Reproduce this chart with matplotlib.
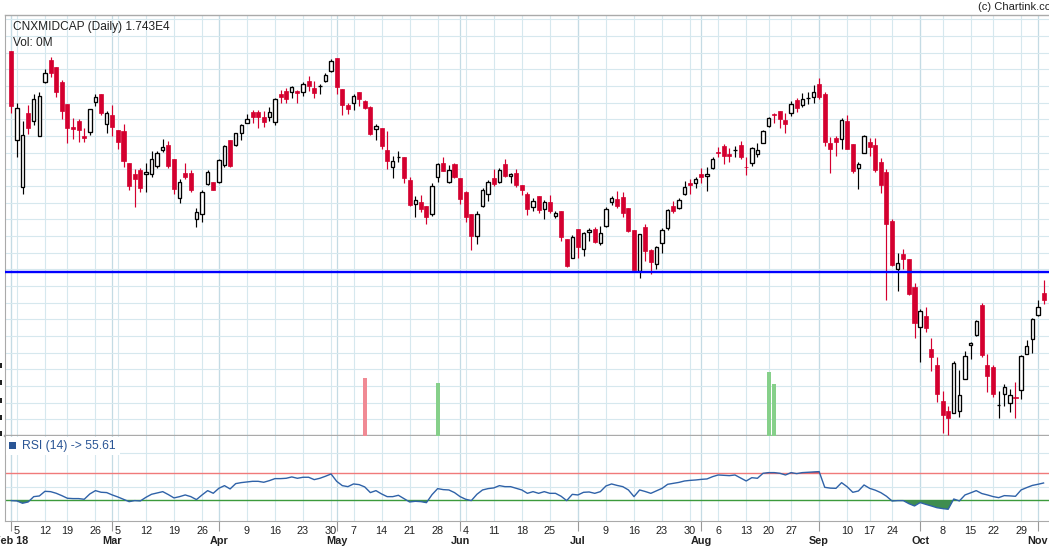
import numpy as np
import pandas as pd
import matplotlib
matplotlib.use('Agg')
import matplotlib.pyplot as plt
from matplotlib.patches import Rectangle

# ---------------- data (NIFTY MIDCAP, daily, 2 Feb 2018 - 2 Nov 2018) ----------------
holidays = ['2018-02-13', '2018-03-02', '2018-03-29', '2018-03-30', '2018-05-01',
            '2018-08-15', '2018-08-22', '2018-09-13', '2018-09-20', '2018-10-02', '2018-10-18']

opens = [
    20420, 19352, 18788, 19680, 19576, 19404, 20052, 20312, 20228, 20044,
    19784, 19504, 19584, 19404, 19444, 19812, 19904, 19540, 19652, 19472,
    19460, 19076, 18944, 18992, 18940, 18948, 19044, 19228, 19288, 19124,
    18660, 18952, 18956, 18400, 18460, 18828, 18848, 18844, 19056, 19352,
    19288, 19432, 19560, 19688, 19688, 19628, 19632, 19572, 19904, 19940,
    19924, 19940, 19924, 20060, 19976, 20004, 20064, 20184, 20336, 19964,
    19768, 19792, 19928, 19820, 19748, 19488, 19496, 19232, 19032, 19152,
    19148, 18872, 18580, 18604, 18560, 18468, 18904, 19072, 18852, 19064,
    18896, 18732, 18464, 18200, 18564, 18704, 18896, 18844, 19064, 18920,
    18956, 18812, 18704, 18552, 18684, 18520, 18612, 18444, 18500, 18164,
    17940, 18284, 18040, 18244, 18288, 18112, 18324, 18604, 18644, 18668,
    18536, 18272, 17784, 18304, 18032, 17860, 18112, 18300, 18560, 18540,
    18700, 18840, 18832, 18948, 18920, 19012, 19208, 19284, 19184, 19232,
    19292, 19032, 19072, 19180, 19320, 19524, 19668, 19696, 19592, 19672,
    19832, 19768, 19860, 19864, 20020, 19904, 19320, 19380, 19360, 19580,
    19304, 19012, 19192, 19332, 19292, 19092, 18968, 18380, 17804, 17980,
    17924, 17584, 17104, 17240, 16844, 16648, 16220, 16096, 16072, 16096,
    16480, 16888, 17016, 17372, 16648, 16628, 16176, 16308, 16200, 16268,
    16348, 16780, 16960, 17256, 17520]

highs = [
    20420, 19800, 19580, 19768, 19904, 19928, 20200, 20352, 20228, 20072,
    19784, 19616, 19604, 19492, 19728, 19904, 19904, 19700, 19776, 19476,
    19540, 19076, 19004, 19012, 19080, 19220, 19220, 19364, 19340, 19124,
    18884, 19072, 18992, 18532, 18752, 18992, 18848, 19120, 19288, 19352,
    19440, 19544, 19664, 19712, 19712, 19700, 19752, 19852, 19952, 19980,
    20000, 19952, 20052, 20120, 20060, 20020, 20160, 20320, 20336, 19964,
    19796, 19900, 19928, 19832, 19760, 19544, 19496, 19460, 19160, 19220,
    19148, 18912, 18680, 18692, 18560, 18832, 19072, 19144, 19052, 19072,
    18896, 18740, 18464, 18500, 18780, 18872, 19000, 19012, 19124, 18960,
    19000, 18812, 18732, 18652, 18684, 18632, 18692, 18500, 18500, 18164,
    18212, 18284, 18252, 18292, 18312, 18320, 18552, 18684, 18740, 18732,
    18536, 18272, 18220, 18340, 18044, 18080, 18292, 18524, 18620, 18652,
    18860, 18880, 18912, 19020, 19024, 19152, 19264, 19300, 19252, 19284,
    19340, 19144, 19272, 19312, 19472, 19632, 19680, 19696, 19672, 19824,
    19860, 19920, 19924, 20012, 20092, 19924, 19384, 19400, 19612, 19652,
    19304, 19084, 19412, 19372, 19372, 19132, 19004, 18404, 18000, 18044,
    17924, 17632, 17320, 17344, 16972, 16744, 16336, 16160, 16700, 16592,
    16820, 16932, 17192, 17400, 16784, 16648, 16340, 16424, 16364, 16452,
    16772, 16952, 17212, 17432, 17672]

lows = [
    19672, 19152, 18708, 19424, 19532, 19404, 20040, 20104, 19872, 19604,
    19320, 19368, 19332, 19332, 19412, 19760, 19652, 19436, 19404, 19248,
    19032, 18752, 18552, 18728, 18728, 18912, 19012, 19212, 19012, 18708,
    18600, 18880, 18724, 18312, 18372, 18812, 18756, 18836, 19032, 19032,
    19284, 19352, 19552, 19560, 19500, 19512, 19584, 19532, 19792, 19792,
    19860, 19800, 19884, 19940, 19860, 19900, 20052, 20168, 19900, 19652,
    19660, 19712, 19764, 19724, 19408, 19352, 19244, 19004, 18900, 19084,
    18840, 18560, 18432, 18484, 18340, 18444, 18852, 18980, 18832, 18900,
    18580, 18372, 18032, 18104, 18544, 18624, 18800, 18840, 18912, 18840,
    18792, 18692, 18452, 18504, 18472, 18404, 18480, 18420, 18140, 17824,
    17940, 17932, 17964, 18140, 18112, 18088, 18312, 18572, 18540, 18424,
    18252, 17792, 17700, 17900, 17740, 17800, 18000, 18272, 18480, 18524,
    18692, 18704, 18780, 18840, 18744, 19004, 19144, 19060, 19092, 19152,
    19120, 18932, 19044, 19144, 19312, 19512, 19560, 19500, 19440, 19640,
    19692, 19752, 19780, 19800, 19840, 19280, 18960, 19160, 19244, 19244,
    18960, 18764, 19192, 19160, 18972, 18720, 17432, 17840, 17540, 17800,
    17492, 16980, 16692, 17052, 16584, 16212, 15832, 15812, 16072, 16024,
    16480, 16720, 17004, 16752, 16332, 16272, 16020, 16164, 16092, 16020,
    16244, 16780, 16800, 17244, 17388]

closes = [
    19764, 19732, 19408, 19492, 19840, 19876, 20152, 20160, 19932, 19704,
    19496, 19488, 19476, 19380, 19724, 19864, 19680, 19672, 19512, 19332,
    19104, 18804, 18888, 18780, 18964, 19124, 19192, 19264, 19044, 18768,
    18844, 18912, 18756, 18484, 18724, 18964, 18756, 19108, 19276, 19040,
    19432, 19532, 19604, 19632, 19632, 19572, 19684, 19840, 19864, 19848,
    19984, 19912, 20020, 20004, 19920, 20004, 20128, 20296, 19992, 19772,
    19724, 19876, 19844, 19740, 19428, 19516, 19284, 19104, 19100, 19152,
    18900, 18572, 18628, 18520, 18432, 18800, 19060, 18984, 18988, 18912,
    18640, 18432, 18204, 18460, 18752, 18844, 18824, 18992, 18924, 18944,
    18812, 18752, 18524, 18620, 18512, 18612, 18504, 18472, 18192, 17840,
    18192, 18072, 18232, 18272, 18132, 18232, 18524, 18652, 18564, 18480,
    18264, 17792, 18220, 18024, 17892, 18064, 18272, 18512, 18504, 18632,
    18784, 18816, 18884, 18912, 18944, 19124, 19196, 19160, 19160, 19232,
    19144, 19028, 19252, 19228, 19456, 19612, 19648, 19608, 19548, 19780,
    19732, 19840, 19860, 19924, 19872, 19332, 19244, 19332, 19592, 19244,
    18984, 19060, 19400, 19272, 18992, 18812, 18348, 17852, 17880, 17924,
    17504, 17160, 17300, 17092, 16744, 16308, 16056, 16012, 16672, 16288,
    16756, 16912, 17180, 16776, 16524, 16304, 16176, 16384, 16292, 16260,
    16760, 16880, 17204, 17344, 17432]

rsi14 = [
    29.5, 29.0, 25.6, 27.5, 35.4, 36.4, 43.3, 42.8, 40.4, 36.9,
    33.0, 32.5, 32.5, 31.5, 39.4, 44.3, 41.9, 41.4, 37.9, 34.9,
    31.5, 28.0, 29.5, 29.0, 34.4, 38.9, 40.9, 42.8, 38.4, 33.5,
    35.4, 37.9, 35.4, 31.0, 37.9, 44.3, 40.4, 47.8, 51.7, 46.8,
    54.7, 56.2, 57.2, 58.1, 58.1, 56.7, 59.1, 62.1, 62.1, 62.6,
    64.6, 62.6, 64.1, 64.1, 60.6, 62.6, 65.6, 69.0, 58.1, 51.7,
    50.2, 54.2, 53.2, 49.8, 41.4, 44.3, 39.4, 35.4, 35.4, 37.4,
    32.5, 27.5, 28.5, 28.0, 26.5, 38.4, 47.3, 45.8, 45.3, 41.4,
    35.4, 31.5, 29.5, 38.9, 45.3, 47.3, 48.3, 51.7, 50.2, 50.2,
    47.8, 45.3, 40.3, 42.8, 40.3, 42.8, 40.3, 40.3, 36.0, 29.5,
    38.8, 37.9, 41.8, 42.3, 40.3, 42.8, 51.2, 54.2, 52.0, 50.2,
    45.3, 35.4, 45.3, 43.0, 40.3, 44.0, 47.7, 53.7, 55.1, 56.5,
    58.6, 59.5, 60.1, 61.0, 61.6, 65.0, 67.5, 67.0, 66.5, 67.5,
    63.0, 58.6, 63.5, 62.6, 70.0, 71.0, 71.0, 70.0, 67.5, 71.0,
    69.5, 71.0, 71.5, 72.0, 72.5, 49.2, 48.0, 47.7, 56.1, 50.0,
    41.8, 43.8, 52.7, 47.7, 45.0, 41.3, 36.0, 28.9, 29.5, 29.5,
    25.0, 21.6, 26.6, 24.0, 21.6, 19.0, 17.7, 16.7, 31.9, 29.0,
    37.9, 41.0, 44.3, 40.0, 37.9, 35.5, 33.9, 36.9, 36.5, 35.9,
    45.3, 48.8, 52.0, 53.7, 55.61]

vol_days = ['2018-05-09', '2018-05-28', '2018-08-20', '2018-08-21']
vol_values = [3.4, 3.1, 3.75, 3.05]

support_level = 17772
title = 'CNXMIDCAP (Daily) 1.743E4'
vol_text = 'Vol: 0M'
rsi_text = 'RSI (14) -> 55.61'

# ---------------- build ----------------
dates = pd.bdate_range('2018-02-02', '2018-11-02')
dates = dates[~dates.isin(pd.to_datetime(holidays))]
n = len(dates)
o = np.array(opens, float); h = np.array(highs, float)
l = np.array(lows, float); c = np.array(closes, float)
r = np.array(rsi14, float)
assert n == len(o) == len(h) == len(l) == len(c) == len(r)
x = np.arange(n)

W, H = 1049, 551
plt.rcParams['font.family'] = ['Liberation Sans', 'DejaVu Sans']
fig = plt.figure(figsize=(W / 100, H / 100), dpi=100)
fig.patch.set_facecolor('white')

def fx(p):
    return p / W

def fy(p):
    return 1 - p / H

X0, DX = 11.3, 5.61          # pixel of first candle, pixels per day
LPX, RPX = 4.7, 1075
TOP, MID, BOT = 15, 435.7, 521

ax = fig.add_axes([fx(LPX), fy(MID), (RPX - LPX) / W, (MID - TOP) / H])
axr = fig.add_axes([fx(LPX), fy(BOT), (RPX - LPX) / W, (BOT - MID) / H])
xlim = ((LPX - X0) / DX, (RPX - X0) / DX)

# volume (overlay axis, created first so tick settings below stick)
axv = ax.twinx()

for a in (ax, axr):
    a.set_xlim(*xlim)
    for s in a.spines.values():
        s.set_color('#aaaaaa')
    a.spines['right'].set_visible(False)
ax.spines['bottom'].set_linewidth(1.7)
ax.spines['top'].set_linewidth(1.0)
axr.spines['top'].set_visible(False)
ax.set_ylim(15804, 20852)
axr.set_ylim(-0.7, 125.7)

week = dates.isocalendar().week.values
week_start = [i for i in range(n) if i == 0 or week[i] != week[i - 1]]
month_start = [i for i in range(n) if i == 0 or dates[i].month != dates[i - 1].month]

grid_c = '#d6e8ee'
month_c = '#c4dbe4'
for a in (ax, axr):
    for i in week_start:
        a.axvline(i, color=grid_c, lw=0.8, zorder=0)
    for i in month_start:
        a.axvline(i, color=month_c, lw=0.9, zorder=0)
for p in range(16000, 20852, 200):
    ax.axhline(p, color=grid_c, lw=0.8, zorder=0)
for p in (50, 100):
    axr.axhline(p, color=grid_c, lw=0.8, zorder=0)

# candles
red = '#d4002f'
up = c >= o
lo = np.minimum(o, c)
ht = np.abs(c - o)
ax.vlines(x[up], l[up], h[up], colors='black', lw=0.85, zorder=3)
ax.vlines(x[~up], l[~up], h[~up], colors=red, lw=0.85, zorder=3)
ax.bar(x[up], ht[up], bottom=lo[up], width=0.6, facecolor='white',
       edgecolor='black', lw=0.95, zorder=4)
ax.bar(x[~up], ht[~up], bottom=lo[~up], width=0.72, facecolor=red,
       edgecolor=red, lw=0.5, zorder=4)

ax.axhline(support_level, color='#0000ff', lw=1.7, zorder=5)

axv.set_ylim(0, 24.75)
axv.set_xlim(*xlim)
axv.axis('off')
vi = [int(np.where(dates == pd.Timestamp(d))[0][0]) for d in vol_days]
vcol = ['#f08a94' if c[i] < c[i - 1] else '#86d08a' for i in vi]
axv.bar(vi, vol_values, width=0.75, color=vcol, zorder=2)

for a in (ax, axr):
    a.tick_params(axis='y', which='both', left=False, right=False,
                  labelleft=False, labelright=False)
ax.tick_params(axis='x', which='both', bottom=False, top=False, labelbottom=False)

# RSI
axr.axhline(70, color='#f07a7a', lw=1.0, zorder=1)
axr.axhline(30, color='#3c9a3c', lw=1.0, zorder=1)
axr.fill_between(x, r, 30, where=r < 30, interpolate=True, color='#3f8d50', lw=0, zorder=2)
axr.fill_between(x, r, 70, where=r > 70, interpolate=True, color='#e0505a', lw=0, zorder=2)
axr.plot(x, r, color='#2f62a8', lw=1.0, zorder=3)

# x labels
tr = axr.get_xaxis_transform()
for i in week_start:
    if i not in month_start:
        axr.text(i, (BOT - 531) / (BOT - MID), str(dates[i].day), transform=tr,
                 ha='center', va='center', fontsize=7.8, color='#222222')
for k, i in enumerate(month_start):
    lab = dates[i].strftime('%b %y') if k == 0 else dates[i].strftime('%b')
    axr.text(i, (BOT - 541) / (BOT - MID), lab, transform=tr, ha='center', va='center',
             fontsize=7.8, fontweight='bold', color='#222222')
axr.set_xticks(month_start)
axr.tick_params(axis='x', bottom=True, length=7, width=0.8, color='#999999', labelbottom=False)

# texts
fig.text(fx(13), fy(27), title, fontsize=8.6, va='center', color='#222222')
fig.text(fx(13), fy(43), vol_text, fontsize=8.6, va='center', color='#222222')
fig.text(fx(978), fy(7), '(c) Chartink.com', fontsize=8, va='center', color='#222222')

fig.add_artist(Rectangle((fx(LPX + 1), fy(455)), (114) / W, 18 / H, facecolor='white',
                         edgecolor='none', zorder=5))
fig.add_artist(Rectangle((fx(9.3), fy(448.7)), 6.4 / W, 7 / H, facecolor='#2a5595',
                         edgecolor='none', zorder=6))
fig.text(fx(22.3), fy(445.5), rsi_text, fontsize=8.7, va='center', color='#2a5595', zorder=7)

for yy in (365, 382.5, 400, 417.5, 433.3):
    fig.add_artist(Rectangle((0, fy(yy + 2.5)), 1.8 / W, 5 / H, facecolor='#222222',
                             edgecolor='none'))

fig.savefig('out.png', dpi=100, facecolor='white')
